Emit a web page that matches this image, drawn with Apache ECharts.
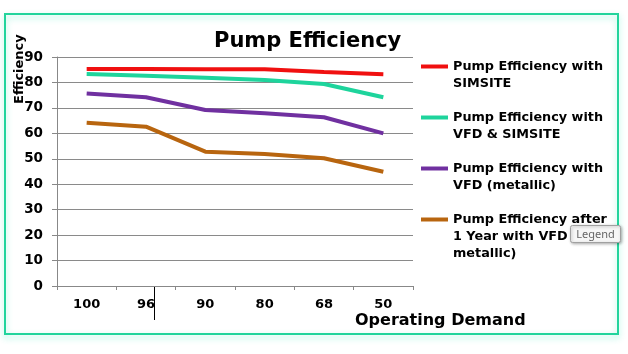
<!DOCTYPE html>
<html>
<head>
<meta charset="utf-8">
<script src="https://cdn.jsdelivr.net/npm/echarts@6/dist/echarts.min.js"></script>
<style>
    html, body { margin: 0; padding: 0; background: #fff; }
    #chart { width: 628px; height: 354px; }
</style>
</head>
<body>
<div id="chart"></div>
<script>
var demand = ['100', '96', '90', '80', '68', '50'];
var yTicks = [0, 90, 10]; // min, max, step

var seriesNames = [
    'Pump Efficiency with SIMSITE',
    'Pump Efficiency with VFD & SIMSITE',
    'Pump Efficiency with VFD (metallic)',
    'Pump Efficiency after 1 Year with VFD (metallic)'
];
// wrapped as in the picture; leading blank lines keep the icon on the first line
var legendLabels = [
    ' \nPump Efficiency with\nSIMSITE',
    ' \nPump Efficiency with\nVFD & SIMSITE',
    ' \nPump Efficiency with\nVFD (metallic)',
    ' \n \nPump Efficiency after\n1 Year with VFD (\nmetallic)'
];
var simsite = [85.3, 85.3, 85.2, 85.2, 84.1, 83.2];
var vfdSimsite = [83.3, 82.6, 81.8, 81.0, 79.4, 74.2];
var vfdMetallic = [75.7, 74.2, 69.2, 67.9, 66.3, 60.0];
var afterYear = [64.2, 62.6, 52.8, 51.9, 50.2, 44.9];

var colors = ['#f01010', '#1ed49c', '#7030a0', '#b8650f'];
var font = 'DejaVu Sans';

var chart = echarts.init(document.getElementById('chart'));

function wrapName(name) {
    return legendLabels[seriesNames.indexOf(name)];
}

function lineSeries(i, data) {
    return {
        name: seriesNames[i],
        type: 'line',
        data: data,
        showSymbol: false,
        symbol: 'none',
        lineStyle: { width: 4, color: colors[i] },
        itemStyle: { color: colors[i] },
        animation: false
    };
}

var legendText = { fontFamily: font, fontWeight: 'bold', fontSize: 12.8, lineHeight: 17, color: '#000' };

var legendBase = {
    orient: 'vertical',
    left: 421,
    padding: 0,
    itemGap: 0,
    itemWidth: 27,
    itemHeight: 4,
    icon: 'rect',
    formatter: wrapName,
    textStyle: legendText
};

var option = {
    backgroundColor: '#fff',
    animation: false,
    title: {
        text: 'Pump Efficiency',
        left: 214,
        top: 31,
        padding: 0,
        textStyle: { fontFamily: font, fontWeight: 'bold', fontSize: 21, color: '#000' }
    },
    legend: [
        Object.assign({}, legendBase, { top: 41, data: seriesNames.slice(0, 3) }),
        Object.assign({}, legendBase, { top: 177, data: seriesNames.slice(3) })
    ],
    grid: { left: 57, right: 215, top: 57, bottom: 68 },
    xAxis: {
        type: 'category',
        data: demand,
        boundaryGap: true,
        axisLine: { lineStyle: { color: '#888', width: 1 } },
        axisTick: { show: true, length: 4, lineStyle: { color: '#888' } },
        axisLabel: { margin: 12, fontFamily: font, fontWeight: 'bold', fontSize: 13, color: '#000' },
        splitLine: { show: false }
    },
    yAxis: {
        type: 'value',
        min: yTicks[0],
        max: yTicks[1],
        interval: yTicks[2],
        axisLine: { show: true, lineStyle: { color: '#888', width: 1 } },
        axisTick: { show: true, length: 5, lineStyle: { color: '#888' } },
        axisLabel: { margin: 14, fontFamily: font, fontWeight: 'bold', fontSize: 13.5, color: '#000' },
        splitLine: { show: true, lineStyle: { color: '#8a8a8a', width: 1 } }
    },
    series: [
        lineSeries(0, simsite),
        lineSeries(1, vfdSimsite),
        lineSeries(2, vfdMetallic),
        lineSeries(3, afterYear)
    ],
    graphic: [
        {
            type: 'rect',
            shape: { x: 5, y: 14, width: 613, height: 320 },
            style: { fill: 'none', stroke: '#22d49c', lineWidth: 2, shadowColor: 'rgba(40,230,180,0.45)', shadowBlur: 6, shadowOffsetY: 3 },
            z: 0
        },
        {
            type: 'text',
            x: 26,
            y: 104,
            rotation: Math.PI / 2,
            style: { text: 'Efficiency', fontFamily: font, fontWeight: 'bold', fontSize: 13, fill: '#000', align: 'left', verticalAlign: 'bottom' }
        },
        {
            type: 'text',
            left: 355,
            top: 313,
            style: { text: 'Operating Demand', fontFamily: font, fontWeight: 'bold', fontSize: 16, fill: '#000' }
        },
        {
            type: 'line',
            shape: { x1: 154.5, y1: 286, x2: 154.5, y2: 320 },
            style: { stroke: '#000', lineWidth: 1 }
        },
        {
            // "Legend" tooltip left over in the screenshot
            type: 'group',
            left: 570,
            top: 225,
            z: 100,
            children: [
                {
                    type: 'rect',
                    z: 100,
                    shape: { x: 0, y: 0, width: 50, height: 17, r: 2 },
                    style: { fill: '#f7f7f7', stroke: '#a0a0a0', lineWidth: 1, shadowColor: 'rgba(0,0,0,0.3)', shadowBlur: 3, shadowOffsetX: 1, shadowOffsetY: 1 }
                },
                {
                    type: 'text',
                    z: 101,
                    x: 25,
                    y: 9,
                    style: { text: 'Legend', fontFamily: 'Noto Sans', fontSize: 11, fill: '#666', align: 'center', verticalAlign: 'middle' }
                }
            ]
        }
    ]
};

chart.setOption(option);
</script>
</body>
</html>
